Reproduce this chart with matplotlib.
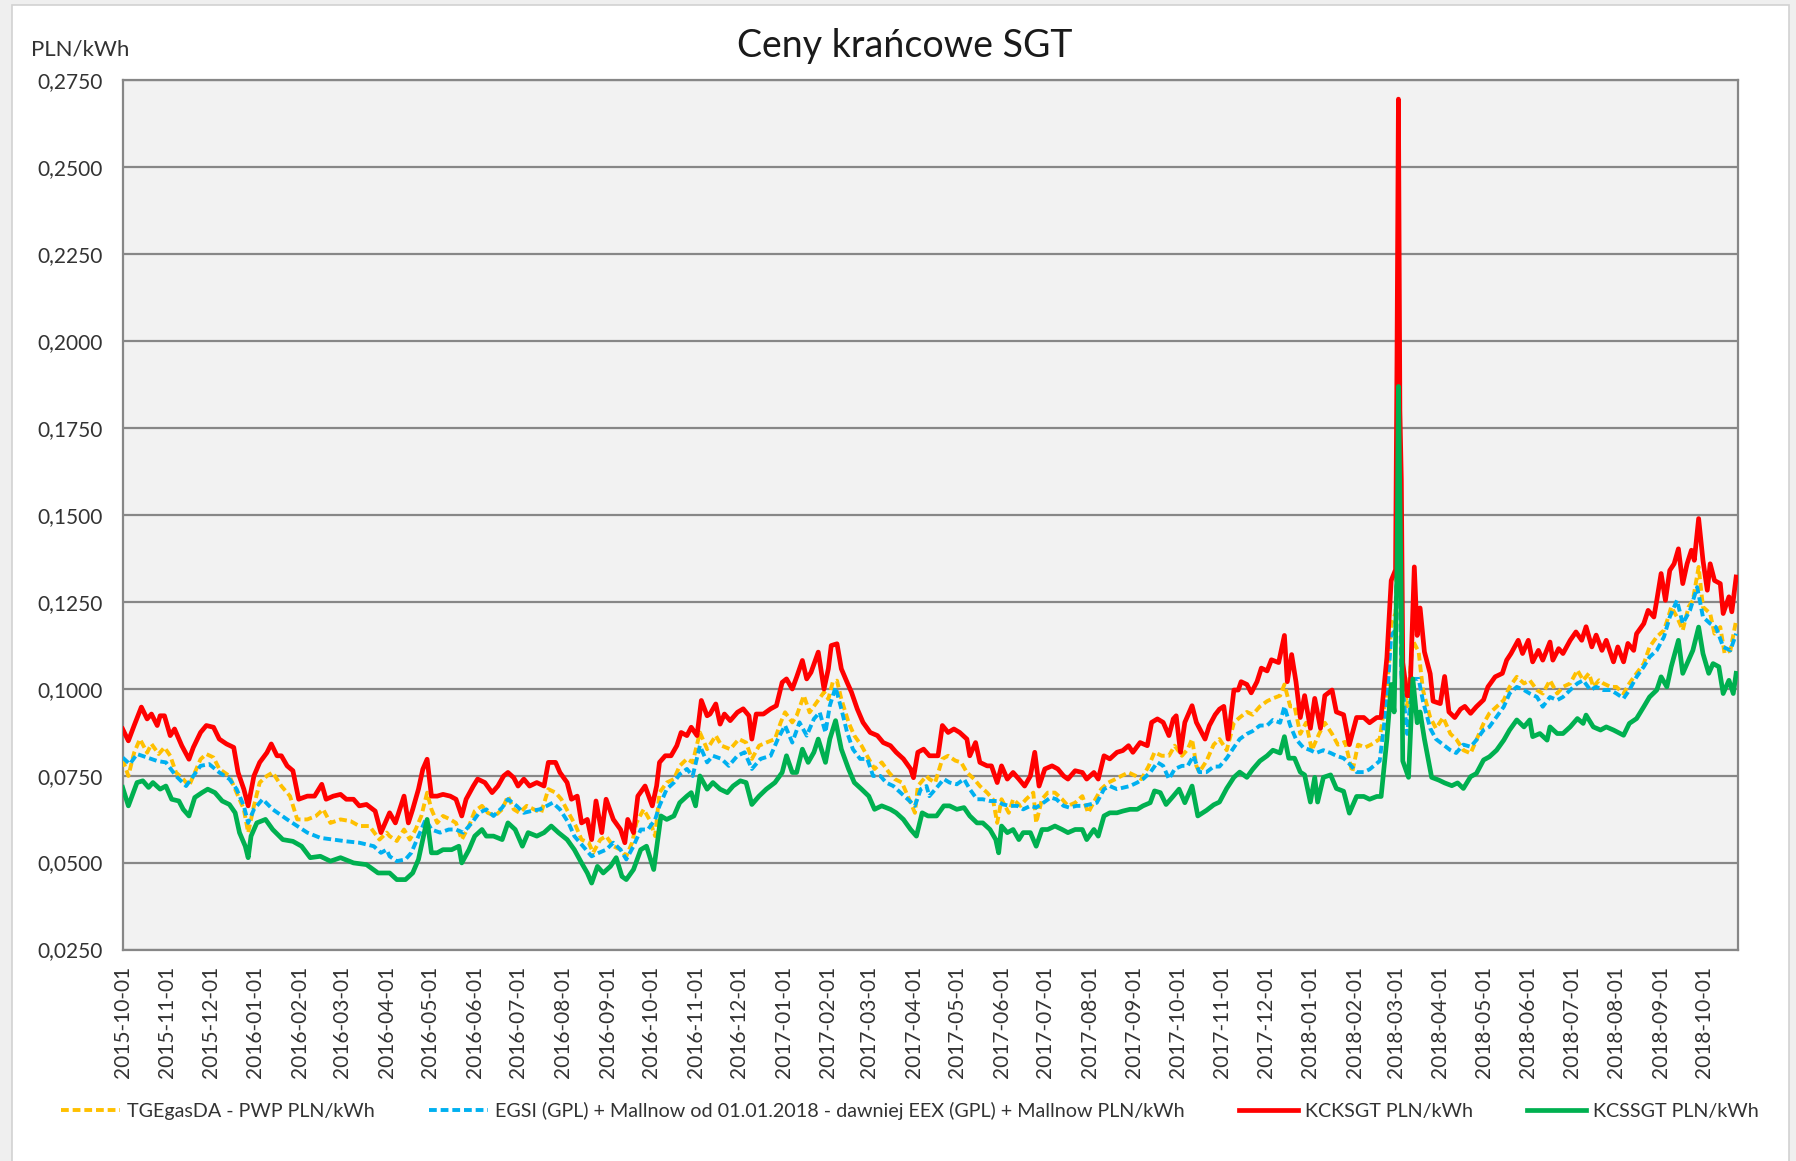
import numpy as np
import matplotlib
matplotlib.use('Agg')
import matplotlib.pyplot as plt
import matplotlib.dates as mdates
from matplotlib.patches import Rectangle
from matplotlib.ticker import MultipleLocator, FuncFormatter

plt.rcParams['font.family'] = ['Lato', 'DejaVu Sans']

# day offsets are counted from START
START = np.datetime64('2015-10-01')
END_DAY = 1119

labels = ['TGEgasDA - PWP PLN/kWh',
          'EGSI (GPL) + Mallnow od 01.01.2018 - dawniej EEX (GPL) + Mallnow PLN/kWh',
          'KCKSGT PLN/kWh',
          'KCSSGT PLN/kWh']

red_day = [0, 4, 8, 13, 17, 20, 24, 26, 29, 33,
           36, 41, 46, 49, 54, 58, 63, 67, 72, 77,
           80, 84, 87, 91, 95, 100, 103, 107, 110, 114,
           118, 122, 128, 133, 138, 141, 146, 151, 155, 160,
           164, 169, 175, 179, 183, 185, 189, 192, 195, 198,
           201, 205, 208, 211, 214, 218, 222, 227, 231, 235,
           238, 243, 246, 251, 256, 260, 264, 267, 271, 274,
           278, 282, 287, 292, 295, 300, 303, 308, 311, 315,
           318, 322, 325, 328, 332, 335, 340, 345, 348, 350,
           354, 357, 362, 367, 370, 372, 376, 380, 384, 387,
           391, 394, 398, 401, 405, 407, 411, 414, 417, 421,
           426, 430, 434, 436, 439, 444, 449, 453, 457, 460,
           464, 467, 471, 474, 477, 482, 486, 489, 491, 495,
           498, 502, 505, 509, 513, 518, 523, 527, 532, 536,
           541, 546, 548, 551, 555, 559, 565, 568, 572, 576,
           580, 585, 587, 591, 594, 599, 602, 606, 609, 613,
           617, 621, 625, 629, 632, 635, 639, 644, 648, 652,
           655, 660, 665, 668, 673, 676, 680, 684, 689, 693,
           697, 700, 705, 710, 713, 717, 721, 725, 728, 730,
           733, 736, 741, 744, 750, 753, 757, 760, 763, 766,
           770, 773, 775, 779, 782, 786, 789, 793, 796, 801,
           805, 807, 810, 813, 816, 819, 823, 826, 830, 833,
           838, 841, 846, 850, 855, 860, 864, 869, 872, 876,
           879, 882, 883, 884, 885, 886, 887, 890, 892, 895,
           897, 899, 902, 906, 908, 913, 916, 919, 923, 927,
           930, 934, 938, 943, 946, 951, 956, 959, 962, 967,
           970, 974, 977, 981, 984, 989, 991, 995, 998, 1003,
           1007, 1011, 1014, 1018, 1021, 1025, 1028, 1033, 1036, 1040,
           1043, 1047, 1049, 1054, 1057, 1061, 1063, 1066, 1069, 1072,
           1075, 1078, 1081, 1084, 1087, 1089, 1092, 1095, 1098, 1100,
           1103, 1107, 1109, 1113, 1115, 1118]
red_val = [.0884, .0850, .0894, .0947, .0913, .0927, .0894, .0922, .0922, .0865,
           .0884, .0836, .0797, .0831, .0874, .0894, .0889, .0855, .0841, .0831,
           .0759, .0711, .0663, .0749, .0788, .0816, .0841, .0807, .0807, .0778,
           .0764, .0682, .0691, .0691, .0725, .0682, .0691, .0696, .0682, .0682,
           .0663, .0667, .0648, .0586, .0624, .0643, .0614, .0653, .0691, .0614,
           .0653, .0711, .0768, .0797, .0691, .0691, .0696, .0691, .0682, .0634,
           .0682, .0720, .0740, .0730, .0701, .0720, .0749, .0759, .0744, .0720,
           .0740, .0720, .0730, .0720, .0788, .0788, .0759, .0730, .0682, .0691,
           .0614, .0624, .0566, .0677, .0586, .0682, .0624, .0595, .0557, .0624,
           .0586, .0691, .0720, .0663, .0720, .0788, .0807, .0807, .0836, .0874,
           .0865, .0889, .0865, .0966, .0922, .0927, .0956, .0898, .0927, .0908,
           .0932, .0942, .0922, .0855, .0927, .0927, .0942, .0951, .1018, .1028,
           .0999, .1033, .1081, .1028, .1047, .1105, .0999, .1057, .1124, .1129,
           .1057, .1018, .0990, .0942, .0903, .0874, .0865, .0845, .0836, .0817,
           .0798, .0769, .0744, .0817, .0826, .0807, .0807, .0894, .0874, .0884,
           .0874, .0855, .0807, .0845, .0788, .0778, .0778, .0730, .0778, .0740,
           .0759, .0740, .0720, .0749, .0817, .0720, .0769, .0778, .0769, .0749,
           .0740, .0764, .0759, .0740, .0759, .0740, .0807, .0798, .0817, .0822,
           .0836, .0817, .0845, .0836, .0903, .0913, .0903, .0865, .0913, .0922,
           .0817, .0903, .0951, .0903, .0855, .0894, .0925, .0941, .0949, .0855,
           .0996, .0996, .1020, .1012, .0988, .1020, .1059, .1051, .1083, .1075,
           .1153, .1020, .1098, .1020, .0917, .0980, .0886, .0972, .0886, .0980,
           .0996, .0933, .0925, .0839, .0917, .0917, .0902, .0917, .0917, .1090,
           .1311, .1342, .1950, .2695, .1800, .1600, .1075, .0980, .0980, .1350,
           .1153, .1232, .1106, .1043, .0964, .0957, .1035, .0933, .0917, .0941,
           .0949, .0929, .0948, .0968, .1005, .1034, .1044, .1082, .1101, .1139,
           .1101, .1139, .1077, .1110, .1082, .1134, .1082, .1115, .1101, .1139,
           .1163, .1139, .1178, .1120, .1154, .1110, .1139, .1077, .1120, .1077,
           .1130, .1110, .1158, .1187, .1225, .1206, .1254, .1331, .1254, .1340,
           .1359, .1402, .1302, .1359, .1398, .1369, .1489, .1369, .1283, .1359,
           .1311, .1302, .1216, .1264, .1221, .1321]

yel_day = [0, 4, 8, 12, 17, 20, 25, 29, 33, 37,
           42, 46, 54, 58, 63, 67, 74, 79, 84, 87,
           91, 95, 100, 104, 110, 116, 121, 128, 134, 139,
           144, 151, 158, 164, 171, 178, 183, 185, 190, 195,
           199, 203, 207, 211, 214, 218, 222, 227, 231, 235,
           240, 244, 249, 253, 258, 263, 267, 271, 275, 280,
           285, 290, 295, 300, 304, 309, 314, 318, 323, 326,
           331, 335, 340, 345, 349, 353, 356, 361, 365, 369,
           372, 377, 382, 386, 391, 395, 400, 405, 411, 415,
           421, 427, 432, 436, 441, 446, 452, 456, 459, 464,
           467, 472, 476, 481, 486, 489, 492, 495, 498, 503,
           507, 512, 517, 521, 526, 531, 535, 540, 544, 549,
           551, 557, 559, 563, 568, 572, 577, 581, 585, 590,
           594, 599, 603, 606, 609, 614, 617, 622, 626, 631,
           633, 637, 641, 646, 651, 655, 660, 665, 669, 674,
           678, 683, 688, 692, 697, 702, 706, 711, 715, 720,
           725, 729, 734, 738, 741, 744, 746, 751, 756, 760,
           765, 770, 774, 779, 783, 788, 793, 797, 802, 805,
           809, 812, 816, 820, 824, 829, 833, 838, 842, 847,
           852, 856, 861, 865, 871, 876, 879, 882, 884, 886,
           890, 894, 898, 901, 906, 910, 915, 920, 924, 929,
           934, 938, 943, 947, 952, 957, 961, 966, 971, 975,
           980, 984, 989, 994, 998, 1003, 1008, 1012, 1016, 1019,
           1023, 1026, 1031, 1035, 1040, 1044, 1049, 1054, 1058, 1063,
           1068, 1071, 1073, 1077, 1081, 1085, 1088, 1092, 1095, 1100,
           1103, 1107, 1110, 1114, 1118]
yel_val = [.0797, .0749, .0816, .0855, .0816, .0841, .0812, .0831, .0807, .0759,
           .0740, .0720, .0797, .0812, .0802, .0769, .0749, .0701, .0653, .0586,
           .0663, .0730, .0749, .0759, .0720, .0691, .0624, .0624, .0634, .0653,
           .0614, .0624, .0619, .0605, .0605, .0566, .0586, .0576, .0562, .0595,
           .0566, .0595, .0634, .0701, .0653, .0614, .0634, .0624, .0614, .0566,
           .0605, .0648, .0663, .0643, .0634, .0653, .0691, .0653, .0643, .0663,
           .0653, .0643, .0711, .0701, .0682, .0643, .0605, .0566, .0557, .0528,
           .0566, .0576, .0547, .0537, .0518, .0557, .0614, .0653, .0624, .0576,
           .0701, .0730, .0740, .0778, .0798, .0788, .0874, .0826, .0865, .0836,
           .0826, .0855, .0845, .0798, .0836, .0845, .0855, .0903, .0932, .0903,
           .0922, .0980, .0932, .0961, .0990, .0970, .1018, .1023, .0970, .0903,
           .0865, .0836, .0798, .0769, .0788, .0759, .0740, .0730, .0691, .0643,
           .0720, .0749, .0740, .0730, .0798, .0807, .0793, .0788, .0759, .0740,
           .0720, .0701, .0682, .0614, .0682, .0643, .0682, .0663, .0682, .0701,
           .0614, .0682, .0701, .0701, .0682, .0663, .0672, .0691, .0643, .0682,
           .0711, .0730, .0740, .0749, .0759, .0749, .0740, .0778, .0817, .0807,
           .0807, .0836, .0807, .0826, .0855, .0778, .0760, .0792, .0839, .0855,
           .0823, .0902, .0917, .0933, .0925, .0949, .0964, .0972, .0980, .1012,
           .0949, .0949, .0870, .0902, .0823, .0870, .0902, .0870, .0839, .0847,
           .0760, .0839, .0831, .0839, .0855, .0996, .1185, .1217, .1600, .1075,
           .0949, .1138, .1106, .0996, .0917, .0886, .0917, .0870, .0855, .0823,
           .0814, .0852, .0900, .0929, .0948, .0967, .1005, .1034, .1015, .1024,
           .0996, .0986, .1024, .0986, .1005, .1015, .1053, .1024, .1044, .1005,
           .1024, .1015, .1005, .1005, .0986, .1015, .1044, .1072, .1120, .1149,
           .1168, .1206, .1235, .1206, .1168, .1235, .1254, .1350, .1235, .1216,
           .1158, .1177, .1101, .1110, .1197]

blu_day = [0, 5, 10, 17, 24, 30, 37, 44, 49, 54,
           60, 67, 74, 79, 84, 87, 91, 97, 104, 114,
           121, 128, 137, 146, 155, 164, 174, 179, 183, 185,
           190, 196, 200, 205, 210, 214, 220, 226, 231, 236,
           242, 247, 252, 257, 263, 267, 273, 278, 283, 289,
           294, 298, 303, 309, 313, 319, 325, 330, 335, 340,
           345, 349, 354, 359, 364, 369, 372, 377, 382, 386,
           391, 395, 400, 405, 409, 415, 420, 426, 431, 436,
           442, 449, 454, 459, 464, 469, 474, 479, 483, 487,
           490, 494, 498, 502, 506, 511, 516, 520, 525, 529,
           534, 539, 544, 549, 553, 557, 559, 564, 569, 573,
           578, 583, 587, 592, 596, 601, 606, 610, 615, 620,
           624, 629, 633, 638, 643, 647, 652, 656, 661, 666,
           670, 675, 680, 684, 689, 693, 698, 703, 707, 712,
           717, 721, 725, 729, 734, 738, 742, 746, 751, 756,
           760, 765, 770, 774, 779, 783, 788, 793, 797, 802,
           805, 809, 813, 818, 823, 827, 832, 837, 841, 846,
           850, 855, 860, 864, 871, 876, 879, 882, 884, 886,
           890, 894, 898, 901, 906, 910, 915, 920, 924, 929,
           934, 938, 943, 947, 952, 957, 961, 966, 971, 975,
           980, 984, 989, 994, 998, 1003, 1008, 1012, 1017, 1021,
           1026, 1031, 1035, 1040, 1044, 1049, 1054, 1058, 1063, 1068,
           1072, 1077, 1081, 1086, 1091, 1095, 1100, 1104, 1109, 1114,
           1118]
blu_val = [.0802, .0783, .0812, .0802, .0792, .0788, .0749, .0720, .0749, .0778,
           .0783, .0759, .0740, .0711, .0663, .0614, .0653, .0682, .0653, .0624,
           .0605, .0586, .0571, .0566, .0561, .0557, .0547, .0528, .0537, .0518,
           .0504, .0509, .0528, .0576, .0624, .0595, .0586, .0595, .0595, .0586,
           .0614, .0643, .0653, .0634, .0658, .0682, .0663, .0643, .0648, .0653,
           .0663, .0672, .0653, .0614, .0576, .0547, .0518, .0528, .0537, .0557,
           .0537, .0509, .0547, .0595, .0595, .0624, .0663, .0711, .0730, .0754,
           .0769, .0749, .0836, .0788, .0807, .0798, .0778, .0807, .0817, .0769,
           .0798, .0807, .0855, .0894, .0845, .0903, .0865, .0913, .0932, .0874,
           .0951, .1004, .0942, .0874, .0826, .0798, .0798, .0749, .0749, .0730,
           .0720, .0701, .0682, .0663, .0711, .0720, .0691, .0715, .0740, .0730,
           .0725, .0740, .0711, .0682, .0682, .0677, .0677, .0667, .0663, .0663,
           .0653, .0663, .0658, .0672, .0687, .0682, .0663, .0658, .0663, .0663,
           .0667, .0672, .0711, .0720, .0711, .0715, .0720, .0730, .0740, .0759,
           .0788, .0778, .0740, .0769, .0778, .0778, .0807, .0760, .0760, .0776,
           .0776, .0800, .0831, .0855, .0870, .0878, .0894, .0894, .0910, .0902,
           .0949, .0894, .0855, .0831, .0823, .0815, .0823, .0815, .0807, .0800,
           .0784, .0760, .0760, .0768, .0792, .0964, .1153, .1169, .1550, .1043,
           .0870, .1028, .1028, .0964, .0886, .0855, .0839, .0823, .0815, .0839,
           .0833, .0852, .0881, .0890, .0919, .0948, .0986, .1005, .0996, .0986,
           .0976, .0948, .0976, .0967, .0976, .0996, .1015, .1024, .0996, .1005,
           .0996, .0996, .0986, .0972, .0996, .1034, .1063, .1091, .1110, .1149,
           .1206, .1254, .1187, .1225, .1292, .1206, .1187, .1177, .1120, .1110,
           .1158]

grn_day = [0, 4, 10, 14, 18, 21, 26, 30, 34, 39,
           42, 46, 50, 55, 59, 64, 69, 74, 78, 81,
           85, 87, 89, 93, 99, 104, 111, 118, 124, 130,
           137, 144, 151, 160, 169, 177, 185, 190, 196, 201,
           205, 208, 211, 214, 218, 222, 228, 233, 235, 240,
           244, 249, 252, 257, 263, 267, 272, 277, 281, 287,
           292, 297, 302, 308, 313, 318, 322, 325, 329, 333,
           338, 342, 346, 349, 354, 359, 363, 368, 373, 377,
           382, 386, 391, 394, 397, 400, 405, 409, 414, 419,
           423, 428, 432, 436, 441, 446, 452, 457, 460, 464,
           467, 471, 475, 479, 482, 487, 490, 494, 498, 503,
           507, 512, 517, 521, 526, 532, 536, 541, 546, 550,
           554, 558, 564, 569, 573, 578, 583, 587, 592, 596,
           601, 605, 607, 609, 613, 617, 621, 624, 629, 633,
           637, 641, 646, 651, 655, 660, 665, 668, 673, 676,
           680, 684, 689, 693, 698, 703, 707, 712, 715, 719,
           723, 728, 732, 736, 741, 745, 751, 756, 760, 765,
           770, 774, 779, 783, 788, 793, 797, 802, 805, 808,
           812, 816, 819, 823, 826, 828, 832, 837, 841, 846,
           850, 855, 860, 864, 869, 872, 876, 879, 881, 883,
           884, 886, 887, 891, 894, 897, 899, 902, 907, 912,
           916, 921, 925, 929, 934, 938, 943, 947, 952, 957,
           961, 966, 971, 975, 977, 982, 987, 989, 994, 998,
           1003, 1008, 1012, 1014, 1019, 1024, 1028, 1033, 1040, 1044,
           1049, 1054, 1058, 1063, 1066, 1070, 1073, 1078, 1081, 1085,
           1088, 1092, 1095, 1099, 1102, 1106, 1109, 1113, 1116, 1118]
grn_val = [.0716, .0663, .0730, .0735, .0716, .0730, .0711, .0720, .0682, .0677,
           .0653, .0634, .0687, .0701, .0711, .0701, .0677, .0667, .0643, .0586,
           .0547, .0514, .0576, .0614, .0624, .0595, .0566, .0561, .0547, .0514,
           .0518, .0504, .0514, .0499, .0494, .0470, .0470, .0451, .0451, .0470,
           .0509, .0566, .0624, .0528, .0528, .0537, .0537, .0547, .0499, .0537,
           .0576, .0595, .0576, .0576, .0566, .0614, .0595, .0547, .0586, .0576,
           .0586, .0605, .0586, .0566, .0537, .0499, .0470, .0441, .0489, .0470,
           .0489, .0514, .0460, .0451, .0480, .0537, .0547, .0480, .0634, .0624,
           .0634, .0672, .0691, .0701, .0663, .0749, .0711, .0730, .0711, .0701,
           .0720, .0735, .0730, .0667, .0691, .0711, .0730, .0759, .0807, .0759,
           .0759, .0826, .0788, .0817, .0855, .0788, .0855, .0908, .0826, .0769,
           .0730, .0711, .0691, .0653, .0663, .0653, .0643, .0624, .0595, .0576,
           .0643, .0634, .0634, .0663, .0663, .0653, .0658, .0634, .0614, .0614,
           .0595, .0566, .0528, .0605, .0586, .0595, .0566, .0586, .0586, .0547,
           .0595, .0595, .0605, .0595, .0586, .0595, .0595, .0566, .0595, .0576,
           .0634, .0643, .0643, .0648, .0653, .0653, .0663, .0672, .0706, .0701,
           .0667, .0691, .0711, .0672, .0720, .0634, .0650, .0666, .0674, .0713,
           .0745, .0760, .0745, .0768, .0792, .0807, .0823, .0815, .0862, .0800,
           .0800, .0760, .0752, .0674, .0745, .0674, .0745, .0752, .0713, .0705,
           .0642, .0690, .0690, .0682, .0690, .0690, .0855, .1012, .0933, .1342,
           .1869, .1232, .0792, .0745, .1028, .0902, .0933, .0855, .0745, .0737,
           .0729, .0721, .0729, .0713, .0747, .0756, .0795, .0804, .0823, .0852,
           .0881, .0910, .0890, .0910, .0862, .0871, .0852, .0890, .0871, .0871,
           .0890, .0914, .0900, .0924, .0890, .0881, .0890, .0881, .0866, .0900,
           .0914, .0948, .0976, .0996, .1034, .1005, .1063, .1139, .1044, .1082,
           .1110, .1177, .1101, .1044, .1072, .1063, .0986, .1024, .0986, .1044]


def to_dates(days):
    return START + np.array(days).astype('timedelta64[D]')


W, H = 1796, 1161
fig = plt.figure(figsize=(W / 100, H / 100), dpi=100)
fig.patch.set_facecolor('#EFEFEF')
fig.add_artist(Rectangle((12 / W, -0.01), (1789 - 12) / W, 1.01 - 5 / H,
                         transform=fig.transFigure, facecolor='white',
                         edgecolor='#D2D2D2', lw=1.2, zorder=-5))

ax = fig.add_axes([122.6 / W, 1 - 949.5 / H, (1737.6 - 122.6) / W, (949.5 - 80) / H])
ax.set_facecolor('#F2F2F2')

dash = (0, (2.0, 1.0))
l1, = ax.plot(to_dates(yel_day), yel_val, color='#FFC000', lw=2.8, ls=dash, zorder=3)
l2, = ax.plot(to_dates(blu_day), blu_val, color='#00B0F0', lw=2.8, ls=dash, zorder=4)
l3, = ax.plot(to_dates(red_day), red_val, color='#FF0000', lw=3.4, zorder=5)
l4, = ax.plot(to_dates(grn_day), grn_val, color='#00B050', lw=3.4, zorder=6)

ax.set_xlim(START, START + np.timedelta64(END_DAY, 'D'))
ax.set_ylim(0.025, 0.275)
ax.yaxis.set_major_locator(MultipleLocator(0.025))
ax.yaxis.set_major_formatter(FuncFormatter(lambda v, p: f'{v:.4f}'.replace('.', ',')))
ax.xaxis.set_major_locator(mdates.MonthLocator())
ax.xaxis.set_major_formatter(mdates.DateFormatter('%Y-%m-%d'))
plt.setp(ax.get_xticklabels(), rotation=90)
ax.tick_params(axis='both', length=0, labelsize=15, colors='#333333')
ax.tick_params(axis='y', pad=14)
ax.tick_params(axis='x', pad=12)
ax.grid(axis='y', color='#878787', lw=1.6)
ax.set_axisbelow(True)
for s in ax.spines.values():
    s.set_color('#878787')
    s.set_linewidth(1.6)

fig.text(905 / W, 1 - 46 / H, 'Ceny krańcowe SGT', ha='center', va='center',
         fontsize=27, color='#1A1A1A')
fig.text(31 / W, 1 - 49 / H, 'PLN/kWh', ha='left', va='center', fontsize=16,
         color='#333333')

fig.legend([l1, l2, l3, l4], labels, loc='center',
           bbox_to_anchor=(910 / W, 1 - 1111 / H), ncol=4, frameon=False,
           fontsize=14.2, handlelength=3.0, handletextpad=0.35,
           columnspacing=2.75, labelcolor='#333333')

fig.savefig('out.png', dpi=100, facecolor=fig.get_facecolor())
